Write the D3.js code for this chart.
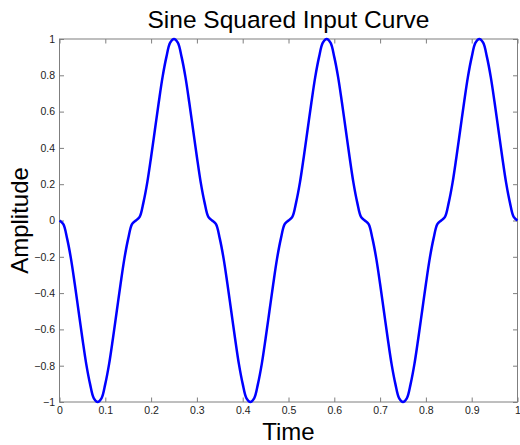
<!DOCTYPE html>
<html>
<head>
<meta charset="utf-8">
<script src="https://cdn.jsdelivr.net/npm/d3@7"></script>
<style>
  body { margin: 0; background: #fff; }
  svg { display: block; font-family: Arial, "Liberation Sans", sans-serif; }
</style>
</head>
<body>
<script>
const amplitude = [
  0, -0.02, -0.10, -0.21, -0.35, -0.50, -0.65, -0.79, -0.90, -0.98,
  -1, -0.98, -0.90, -0.79, -0.65, -0.50, -0.35, -0.21, -0.10, -0.02,
  0, 0.02, 0.10, 0.21, 0.35, 0.50, 0.65, 0.79, 0.90, 0.98,
  1, 0.98, 0.90, 0.79, 0.65, 0.50, 0.35, 0.21, 0.10, 0.02,
  0, -0.02, -0.10, -0.21, -0.35, -0.50, -0.65, -0.79, -0.90, -0.98,
  -1, -0.98, -0.90, -0.79, -0.65, -0.50, -0.35, -0.21, -0.10, -0.02,
  0, 0.02, 0.10, 0.21, 0.35, 0.50, 0.65, 0.79, 0.90, 0.98,
  1, 0.98, 0.90, 0.79, 0.65, 0.50, 0.35, 0.21, 0.10, 0.02,
  0, -0.02, -0.10, -0.21, -0.35, -0.50, -0.65, -0.79, -0.90, -0.98,
  -1, -0.98, -0.90, -0.79, -0.65, -0.50, -0.35, -0.21, -0.10, -0.02,
  0, 0.02, 0.10, 0.21, 0.35, 0.50, 0.65, 0.79, 0.90, 0.98,
  1, 0.98, 0.90, 0.79, 0.65, 0.50, 0.35, 0.21, 0.10, 0.02,
  0
];
const timeStep = 1 / 120;
const xTicks = [0, 0.1, 0.2, 0.3, 0.4, 0.5, 0.6, 0.7, 0.8, 0.9, 1];
const yTicks = [-1, -0.8, -0.6, -0.4, -0.2, 0, 0.2, 0.4, 0.6, 0.8, 1];

const width = 520, height = 445;
const margin = { top: 39, right: 2.5, bottom: 43, left: 59.5 };
const innerW = width - margin.left - margin.right;
const innerH = height - margin.top - margin.bottom;

const svg = d3.select("body").append("svg")
  .attr("width", width)
  .attr("height", height);

const x = d3.scaleLinear().domain([0, 1]).range([margin.left, margin.left + innerW]);
const y = d3.scaleLinear().domain([-1, 1]).range([margin.top + innerH, margin.top]);

const axisColor = "#7f7f7f";
const tickLen = 4.5;

// plot box
svg.append("rect")
  .attr("x", margin.left).attr("y", margin.top)
  .attr("width", innerW).attr("height", innerH)
  .attr("fill", "none").attr("stroke", axisColor).attr("stroke-width", 1);

function styleAxis(g) {
  g.select(".domain").remove();
  g.selectAll(".tick line").attr("stroke", axisColor);
  g.selectAll(".tick text").attr("fill", "#222").style("font-size", "10.5px");
}

// bottom / top ticks point inward
svg.append("g")
  .attr("transform", `translate(0,${margin.top + innerH})`)
  .call(d3.axisBottom(x).tickValues(xTicks).tickSize(-tickLen).tickPadding(5).tickFormat(d3.format("~g")))
  .call(styleAxis);
svg.append("g")
  .attr("transform", `translate(0,${margin.top})`)
  .call(d3.axisTop(x).tickValues(xTicks).tickSize(-tickLen).tickFormat(""))
  .call(styleAxis);

// left / right ticks
svg.append("g")
  .attr("transform", `translate(${margin.left},0)`)
  .call(d3.axisLeft(y).tickValues(yTicks).tickSize(-tickLen).tickPadding(4.5).tickFormat(d3.format("~g")))
  .call(styleAxis);
svg.append("g")
  .attr("transform", `translate(${margin.left + innerW},0)`)
  .call(d3.axisRight(y).tickValues(yTicks).tickSize(-tickLen).tickFormat(""))
  .call(styleAxis);

// the curve
const line = d3.line()
  .x((d, i) => x(i * timeStep))
  .y(d => y(d))
  .curve(d3.curveCatmullRom);

svg.append("path")
  .datum(amplitude)
  .attr("d", line)
  .attr("fill", "none")
  .attr("stroke", "#0000ff")
  .attr("stroke-width", 2.5)
  .attr("stroke-linejoin", "round");

// titles
svg.append("text")
  .attr("x", margin.left + innerW / 2)
  .attr("y", 28)
  .attr("text-anchor", "middle")
  .style("font-size", "24.5px")
  .text("Sine Squared Input Curve");

svg.append("text")
  .attr("x", margin.left + innerW / 2)
  .attr("y", 440)
  .attr("text-anchor", "middle")
  .style("font-size", "24px")
  .text("Time");

svg.append("text")
  .attr("transform", `translate(28,${margin.top + innerH / 2}) rotate(-90)`)
  .attr("text-anchor", "middle")
  .style("font-size", "24px")
  .text("Amplitude");
</script>
</body>
</html>
